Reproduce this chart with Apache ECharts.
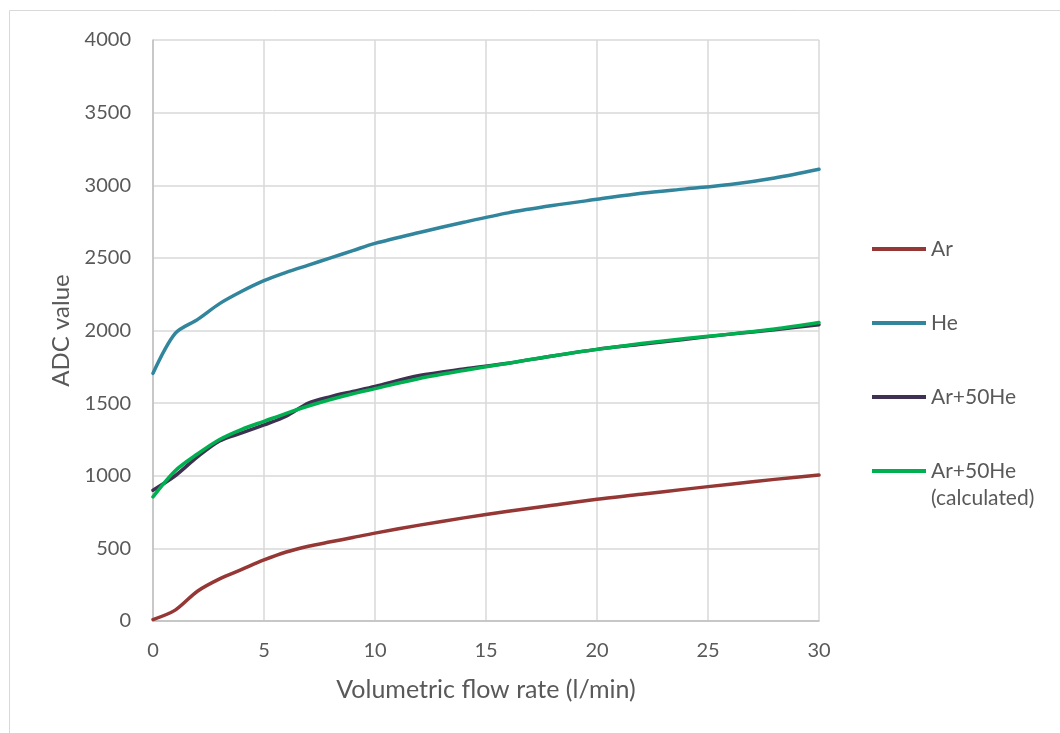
<!DOCTYPE html>
<html>
<head>
<meta charset="utf-8">
<script src="https://cdn.jsdelivr.net/npm/echarts@6/dist/echarts.min.js"></script>
<style>
  html, body { margin: 0; padding: 0; background: #fff; }
  #chart { width: 1060px; height: 733px; }
</style>
</head>
<body>
<div id="chart"></div>
<script>
// Flow rate samples (l/min) and ADC readings per gas
const flow = [0, 1, 2, 3, 4, 5, 6, 7, 8, 9, 10, 12, 14, 16, 18, 20, 22, 24, 26, 28, 30];
const adcAr = [10, 75, 205, 290, 355, 420, 475, 515, 545, 575, 605, 660, 710, 755, 797, 838, 872, 908, 942, 975, 1005];
const adcHe = [1705, 1980, 2075, 2185, 2270, 2343, 2400, 2450, 2500, 2550, 2600, 2675, 2745, 2810, 2860, 2903, 2945, 2975, 3005, 3050, 3110];
const adcMix = [900, 1000, 1130, 1240, 1295, 1350, 1410, 1500, 1545, 1580, 1615, 1690, 1735, 1775, 1825, 1870, 1905, 1940, 1975, 2005, 2040];
const adcMixCalc = [855, 1035, 1150, 1250, 1320, 1375, 1430, 1480, 1525, 1565, 1600, 1670, 1725, 1775, 1825, 1870, 1910, 1945, 1975, 2010, 2055];

const seriesNames = ['Ar', 'He', 'Ar+50He', 'Ar+50He (calculated)'];
const seriesData = [adcAr, adcHe, adcMix, adcMixCalc];
const seriesColors = ['#953735', '#31859C', '#3F3151', '#00B050'];

const xTicks = { min: 0, max: 30, interval: 5 };
const yTicks = { min: 0, max: 4000, interval: 500 };

const FONT = 'Lato, "Open Sans", sans-serif';
const TEXT = '#595959';

const chart = echarts.init(document.getElementById('chart'));

// One legend block per series, stacked down the right-hand side.
// The two-line label gets a blank leading line so its first line sits level with the swatch.
const LEGEND_LH = 27;
const legendCenters = [249, 323, 397, 471];
const legends = seriesNames.map((name, i) => {
  const last = i === seriesNames.length - 1;
  const boxH = last ? LEGEND_LH * 3 : LEGEND_LH;
  return {
    data: [{ name: name, icon: 'rect' }],
    left: 872,
    top: legendCenters[i] - boxH / 2,
    orient: 'vertical',
    itemWidth: 54,
    itemHeight: 4,
    itemGap: 0,
    padding: 0,
    selectedMode: false,
    formatter: last ? ' \nAr+50He\n(calculated)' : '{name}',
    lineStyle: { width: 3.5, cap: 'round' },
    textStyle: {
      fontFamily: FONT,
      fontSize: 21,
      color: TEXT,
      lineHeight: LEGEND_LH
    }
  };
});

chart.setOption({
  backgroundColor: '#ffffff',
  animation: false,
  graphic: [{
    type: 'rect',
    shape: { x: 9.5, y: 10.5, width: 1200, height: 900 },
    style: { fill: 'none', stroke: '#d9d9d9', lineWidth: 1 },
    silent: true
  }],
  grid: { left: 153, right: 241, top: 40, bottom: 112 },
  legend: legends,
  xAxis: {
    type: 'value',
    min: xTicks.min,
    max: xTicks.max,
    interval: xTicks.interval,
    name: 'Volumetric flow rate (l/min)',
    nameLocation: 'middle',
    nameGap: 56,
    nameTextStyle: { fontFamily: FONT, fontSize: 25, color: TEXT },
    axisLine: { show: true, lineStyle: { color: '#bfbfbf', width: 1.5 } },
    axisTick: { show: false },
    axisLabel: { fontFamily: FONT, fontSize: 20, color: TEXT, margin: 20, formatter: v => String(v) },
    splitLine: { show: true, lineStyle: { color: '#d9d9d9', width: 1.5 } }
  },
  yAxis: {
    type: 'value',
    min: yTicks.min,
    max: yTicks.max,
    interval: yTicks.interval,
    name: 'ADC value',
    nameLocation: 'middle',
    nameGap: 79,
    nameTextStyle: { fontFamily: FONT, fontSize: 24, color: TEXT },
    axisLine: { show: true, lineStyle: { color: '#bfbfbf', width: 1.5 } },
    axisTick: { show: false },
    axisLabel: { fontFamily: FONT, fontSize: 20, color: TEXT, margin: 22, formatter: v => String(v) },
    splitLine: { show: true, lineStyle: { color: '#d9d9d9', width: 1.5 } }
  },
  series: seriesNames.map((name, i) => ({
    name: name,
    type: 'line',
    data: flow.map((f, k) => [f, seriesData[i][k]]),
    smooth: 0.3,
    showSymbol: false,
    symbol: 'none',
    color: seriesColors[i],
    lineStyle: { color: seriesColors[i], width: 3.5, cap: 'round', join: 'round' }
  }))
});
</script>
</body>
</html>
